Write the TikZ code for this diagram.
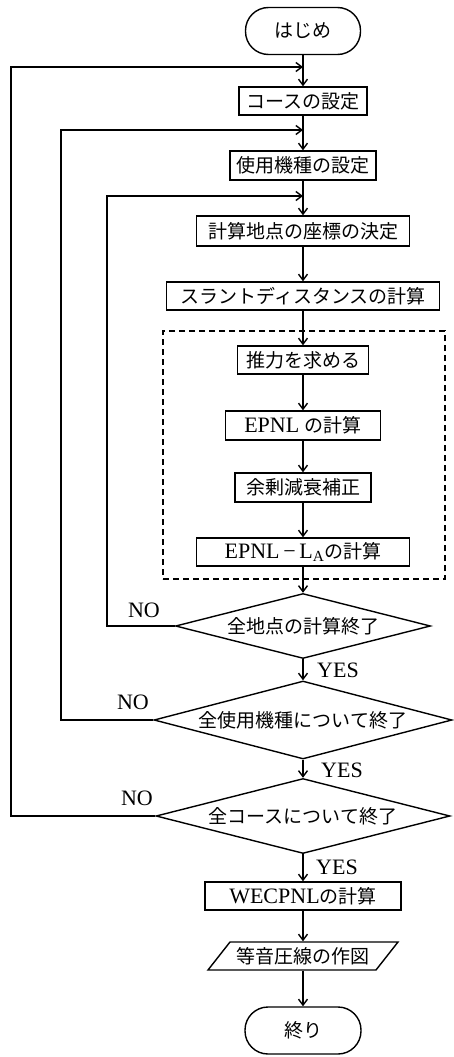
\documentclass[tikz,border=0pt]{standalone}
\usepackage{fontspec}
\setmainfont{Liberation Serif}
\newfontfamily\jpfont{Noto Sans CJK JP}
\usetikzlibrary{arrows.meta,shapes.geometric}
\newcommand\jt[1]{{\jpfont\fontsize{19}{21}\selectfont #1}}
\begin{document}
\begin{tikzpicture}[x=1pt,y=-1pt,
  line width=1.4pt,
  every node/.style={font=\fontsize{22}{24}\selectfont},
  box/.style={draw, rectangle, inner sep=0pt, minimum height=28pt},
  term/.style={draw, rectangle, rounded corners=23pt, minimum width=115pt, minimum height=47pt, inner sep=0pt},
  dec/.style={draw, diamond, inner sep=0pt},
  arr/.style={-{Straight Barb[length=6pt,width=9pt]}},
  lbl/.style={inner sep=0pt},
  grp/.style={draw, dash pattern=on 6pt off 4pt, line width=1.3pt, inner sep=0pt}
]
\useasboundingbox (0,0) rectangle (453,1057);

\node[term] (start) at (303,31) {\jt{はじめ}};
\node[box, minimum width=128pt] (course) at (303,101) {\jt{コースの設定}};
\node[box, minimum width=146pt, minimum height=29pt] (model) at (303,165.5) {\jt{使用機種の設定}};
\node[box, minimum width=213pt, minimum height=30pt] (coord) at (303,231) {\jt{計算地点の座標の決定}};
\node[box, minimum width=273pt] (slant) at (303,296) {\jt{スラントディスタンスの計算}};
\node[grp, minimum width=282pt, minimum height=248pt] (group) at (304,455) {};
\node[box, minimum width=131pt] (thrust) at (303,360) {\jt{推力を求める}};
\node[box, minimum width=155pt, minimum height=29pt] (epnl) at (303,425.5) {EPNL \jt{の計算}};
\node[box, minimum width=136pt, minimum height=29pt] (excess) at (303,487.5) {\jt{余剰減衰補正}};
\node[box, minimum width=213pt] (epnla) at (303,552) {EPNL\,−\,L\textsubscript{A}\jt{の計算}};

\node[dec, aspect=3.9, minimum width=255pt, minimum height=65pt] (d1) at (303,626) {\jt{全地点の計算終了}};
\node[dec, aspect=3.85, minimum width=298pt, minimum height=78pt] (d2) at (303,720) {\jt{全使用機種について終了}};
\node[dec, aspect=3.9, minimum width=294pt, minimum height=75pt] (d3) at (303,816) {\jt{全コースについて終了}};

\node[box, minimum width=196pt] (wec) at (303,896) {WECPNL\jt{の計算}};
\node[inner sep=0pt, minimum width=168pt, minimum height=28pt] (plot) at (303,956) {\jt{等音圧線の作図}};
\draw (208,970) -- (230,942) -- (398,942) -- (376,970) -- cycle;
\node[term, minimum width=116pt] (end) at (303,1030.5) {\jt{終り}};

\coordinate (j1) at (303,67);
\coordinate (j2) at (303,130);
\coordinate (j3) at (303,196);
\coordinate (l1) at (11,67);
\coordinate (l2) at (61,130);
\coordinate (l3) at (107,196);

\draw[arr] (start) -- (course);
\draw[arr] (course) -- (model);
\draw[arr] (model) -- (coord);
\draw[arr] (coord) -- (slant);
\draw[arr] (slant) -- (thrust);
\draw[arr] (thrust) -- (epnl);
\draw[arr] (epnl) -- (excess);
\draw[arr] (excess) -- (epnla);
\draw[arr] (epnla) -- (d1);
\draw[arr] (d1) -- (d2);
\draw[arr] (d2) -- (d3);
\draw[arr] (d3) -- (wec);
\draw[arr] (wec) -- (plot);
\draw[arr] (plot) -- (end);

\draw[arr] (d1.west) -| (l3) -- (j3);
\draw[arr] (d2.west) -| (l2) -- (j2);
\draw[arr] (d3.west) -| (l1) -- (j1);

\node[lbl] (no1) at (144,610) {NO};
\node[lbl] (no2) at (133,702) {NO};
\node[lbl] (no3) at (137,798) {NO};
\node[lbl] (yes1) at (338,670) {YES};
\node[lbl] (yes2) at (342,770) {YES};
\node[lbl] (yes3) at (337,867) {YES};
\end{tikzpicture}
\end{document}
